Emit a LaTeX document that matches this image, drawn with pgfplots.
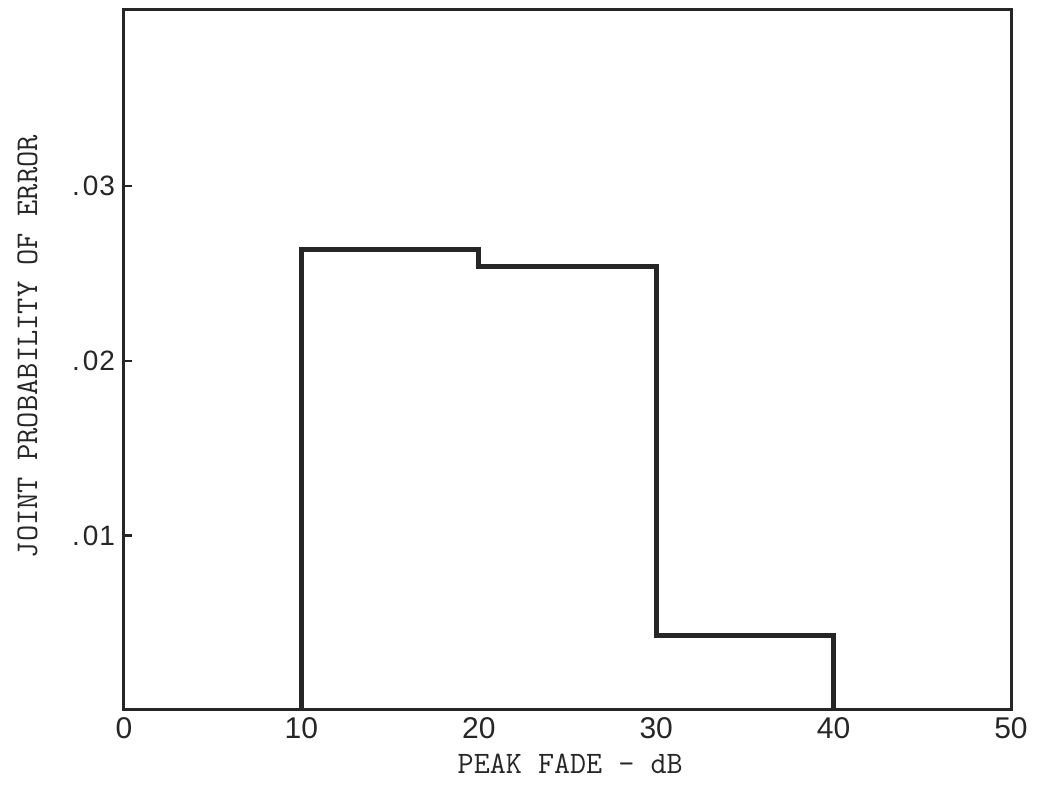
\documentclass[border=0pt]{standalone}
\usepackage{fontspec}
\newfontfamily\tickfont{Liberation Sans}
\usepackage{pgfplots}
\pgfplotsset{compat=1.18}
\begin{document}
\begin{tikzpicture}
\begin{axis}[
  name=ax,
  scale only axis,
  width=443.5pt, height=350pt,
  xmin=0, xmax=50, ymin=0, ymax=0.0401,
  axis line style={line width=1.5pt, black!85},
  xtick={0,10,20,30,40,50},
  xticklabels={0,10,20,30,40,50},
  ytick={0.01,0.02,0.03},
  yticklabels={.\kern1.5pt0\kern0.5pt1,.\kern1.5pt0\kern0.5pt2,.\kern1.5pt0\kern0.5pt3},
  ytick pos=left,
  tick align=inside,
  major tick length=4pt,
  x tick style={draw=none},
  y tick style={line width=1.2pt, black!85},
  xticklabel style={font=\tickfont\fontsize{15pt}{16pt}\selectfont, text=black!85},
  yticklabel style={font=\tickfont\fontsize{14pt}{15pt}\selectfont, text=black!85, xshift=-1pt},
  xlabel={PEAK FADE - dB},
  ylabel={JOINT PROBABILITY OF ERROR},
  xlabel style={at={(axis description cs:0.503,0)}, anchor=center, yshift=-27pt, font=\ttfamily\fontsize{15.6pt}{16pt}\selectfont, text=black!85},
  ylabel style={at={(axis description cs:-0.109,0.519)}, anchor=center, font=\ttfamily\fontsize{15.8pt}{16pt}\selectfont, text=black!85},
  clip=false,
]
\addplot[line width=2.6pt, black!85, line join=miter] coordinates {
  (10,0) (10,0.02639) (20,0.02639) (20,0.02541) (30,0.02541) (30,0.00429) (40,0.00429) (40,0)
};
\end{axis}
\pgfresetboundingbox
\path[use as bounding box] ([shift={(-62pt,-37.5pt)}]ax.south west) rectangle ([shift={(14pt,5pt)}]ax.north east);
\end{tikzpicture}
\end{document}
